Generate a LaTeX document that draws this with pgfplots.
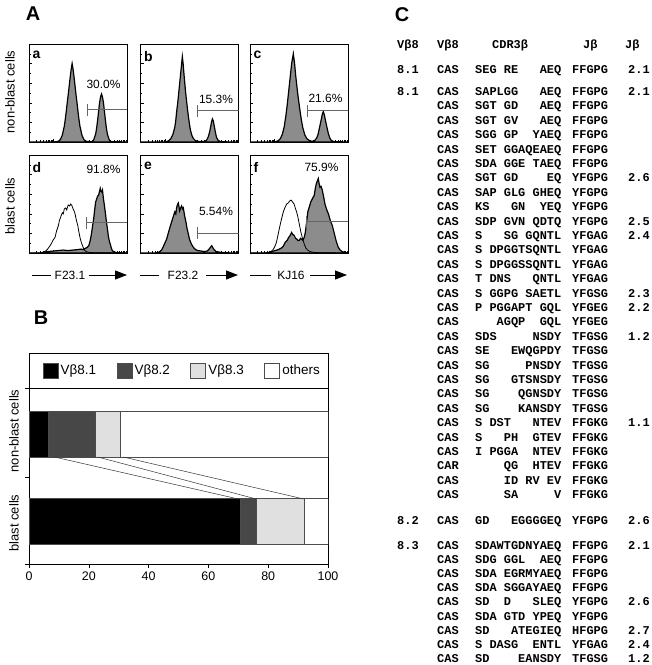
\documentclass[border=0pt]{standalone}
\usepackage{fontspec}
\setmainfont{Liberation Sans}
\newfontfamily\monofont{Liberation Mono}
\usepackage{pgfplots}
\pgfplotsset{compat=1.18}
\usetikzlibrary{arrows.meta}

\newcommand\ctab{\monofont\bfseries\fontsize{12}{12}\selectfont}

\tikzset{
  lbl/.style={font=\fontsize{12}{12}\selectfont},
  plet/.style={anchor=north west, inner sep=0pt, font=\bfseries\fontsize{14}{14}\selectfont},
}

\pgfplotsset{
  histo/.style={
    scale only axis, width=98bp, height=98bp, anchor=north west,
    xmin=0, xmax=100, ymin=0, ymax=100,
    tick align=inside, xtick pos=left, ytick pos=left,
    xtick={0,25,50,75,100},
    minor xtick={7.53,11.93,15.05,17.47,19.45,21.13,22.58,23.86,
                 32.53,36.93,40.05,42.47,44.45,46.13,47.58,48.86,
                 57.53,61.93,65.05,67.47,69.45,71.13,72.58,73.86,
                 82.53,86.93,90.05,92.47,94.45,96.13,97.58,98.86},
    ytick={0,20,40,60,80,100}, minor ytick={10,30,50,70,90},
    xticklabels={}, yticklabels={},
    major tick length=3bp, minor tick length=1.8bp,
    tick style={black, line width=0.6bp},
    axis line style={line width=0.9bp},
  },
  hfill/.style={fill=black!45, draw=black, line width=1.2bp},
  hopen/.style={draw=black, line width=0.8bp},
  gate/.style={black!60, line width=0.7bp},
}

\begin{document}
\begin{tikzpicture}[font=\fontsize{12}{14}\selectfont]
\useasboundingbox (0,0) rectangle (652bp,-665bp);

% ---------- A ----------
\node[font=\bfseries\fontsize{20}{20}\selectfont] at (33bp,-14bp) {A};
\node[rotate=90, font=\fontsize{13}{13}\selectfont] at (10bp,-92bp) {non-blast cells};
\node[rotate=90, font=\fontsize{13}{13}\selectfont] at (10bp,-206bp) {blast cells};

% a
\begin{axis}[histo, at={(29bp,-44bp)}]
\addplot[hfill] coordinates {(0,0) (24,0) (28,0.3) (30,0.8) (32,2.5) (34,7) (36,16) (37,23) (38,31) (39,40) (40,48) (41,57) (42,66) (43,74) (44,80) (45,74) (46,66) (47,57) (48,48) (49,40) (50,31) (51,23) (52,16) (54,7) (56,2.5) (58,0.8) (60,0.5) (62,0.4)
 (64,0.4) (66,2) (68,8) (69,14) (70,22) (71,31) (72,40) (73,46) (74,49) (75,46) (76,40) (77,31) (78,22) (79,14) (80,8) (82,2) (84,0.4) (100,0)} \closedcycle;
\addplot[gate] coordinates {(60,33) (100,33)};
\addplot[gate] coordinates {(60,27) (60,39)};
\node[lbl] at (axis cs:76,59) {30.0\%};
\node[plet] at (rel axis cs:0.035,0.93) {a};
\end{axis}

% b
\begin{axis}[histo, at={(140.5bp,-44bp)}]
\addplot[hfill] coordinates {(0,0) (24,0) (27,0.5) (29,1.5) (31,3.5) (33,7.5) (35,15) (36,22) (37,32) (38,40) (39,50) (40,60) (41,70) (42,80) (42.7,87) (43.5,80) (44.3,70) (45,62) (46,51) (47,42) (48,33) (49,25) (50,18) (51,12) (52.5,6.5) (54,3.5) (56,1.5) (58,0.7) (62,0.5)
 (66,0.7) (67.5,2) (69,5) (70.5,10) (71.5,15) (72.5,20.5) (73.4,23.6) (74.3,21.5) (75.3,16) (76.5,9.5) (77.5,5) (79,2) (81,0.6) (85,0.2) (100,0)} \closedcycle;
\addplot[gate] coordinates {(58.4,32) (100,32)};
\addplot[gate] coordinates {(58.4,26) (58.4,38)};
\node[lbl] at (axis cs:77,43) {15.3\%};
\node[plet] at (rel axis cs:0.035,0.93) {b};
\end{axis}

% c
\begin{axis}[histo, at={(250bp,-44bp)}]
\addplot[hfill] coordinates {(0,0) (24,0) (27,0.6) (29,1.5) (31,3.5) (33,8) (35,16) (36.5,26) (38,38) (39.5,52) (41,66) (42.5,80) (44.2,90) (45.5,80) (46.5,69) (47.5,60) (48.5,51) (49.5,43) (51,32) (52.5,22) (54,14) (56,7) (58,3.5) (61,1.2) (63,0.8)
 (64,0.8) (66,1.5) (68,4) (69.5,8) (71,15) (72.5,22) (73.8,28.5) (74.8,31) (75.8,28) (77,22) (78.5,15) (80,8.5) (81.5,4) (83,1.5) (86,0.4) (100,0)} \closedcycle;
\addplot[gate] coordinates {(58.8,32) (100,32)};
\addplot[gate] coordinates {(58.8,26) (58.8,38)};
\node[lbl] at (axis cs:77,45) {21.6\%};
\node[plet] at (rel axis cs:0.035,0.93) {c};
\end{axis}

% d
\begin{axis}[histo, at={(29bp,-155bp)}]
\addplot[hfill] coordinates {(0,0) (12,0) (15,0.8) (20,1.5) (25,2) (30,2.5) (35,3) (40,2.5) (45,3) (50,3.5) (53,4) (55,3.5) (57,4.5) (59,5.5) (61,7.5) (62.3,12) (63.5,18) (64.8,27) (66,35) (67,44) (68,52) (69,55) (70,58) (71,59) (71.8,62) (72.7,66) (73.5,63) (74.4,62) (75,64) (76,55) (77,48) (77.8,42) (79,32) (80,24.7) (81,17) (82,12) (83,9) (84,5) (85,2.4) (87,1) (90,0.3) (100,0)} \closedcycle;
\addplot[hopen] coordinates {(0,0) (10,0) (14,0.5) (17,2) (19,4) (21.5,7.5) (23,10) (24.5,13) (26.6,16) (28,22) (30,28) (31,33) (32.8,38) (34,41) (35,40) (36,45) (37.5,46) (38.5,44) (40,49) (41.5,48) (42.5,50) (43.7,48.6) (45,45) (46,43) (47,40) (48,35) (49,31) (49.8,28) (50.8,22) (52,16) (53.3,11) (54.6,7.5) (56,4) (57,2.4) (59,1.2) (62,0.6) (66,0.3) (70,0.2) (100,0)};
\addplot[gate] coordinates {(59,31) (100,31)};
\addplot[gate] coordinates {(59,25) (59,37)};
\node[lbl] at (axis cs:76,85) {91.8\%};
\node[plet] at (rel axis cs:0.035,0.93) {d};
\end{axis}

% e
\begin{axis}[histo, at={(140.5bp,-155bp)}]
\addplot[hfill] coordinates {(0,0) (15,0) (18,0.5) (19.8,1.5) (21.5,3) (23,6) (24.8,10) (26.6,14) (28,19) (30,26) (31.5,31) (33.4,37) (35,42) (36,40) (37,47) (38,50) (38.6,51) (39.3,47) (40,43) (41,46) (42,48) (43,45) (43.7,46) (45,38) (46.4,31.5) (47.5,25) (48.8,19.5) (50,14) (52,9) (53.8,6) (55.6,4) (57,3) (59,2.4) (62,2) (65,1.5) (68,2) (70,4) (71.5,6) (72.7,7.5) (74,5) (75.5,3) (77,1.5) (80,1) (84,0.5) (88,0.2) (100,0)} \closedcycle;
\addplot[gate] coordinates {(58.4,20.5) (100,20.5)};
\addplot[gate] coordinates {(58.4,14.5) (58.4,26.5)};
\node[lbl] at (axis cs:77,42) {5.54\%};
\node[plet] at (rel axis cs:0.035,0.93) {e};
\end{axis}

% f
\begin{axis}[histo, at={(250bp,-155bp)}]
\addplot[hfill] coordinates {(0,0) (15,0) (19,0.5) (22,1.5) (26,2.5) (29,3.5) (32,5) (34,7) (36,11) (38,13) (39.5,16) (41,18) (42.5,21) (43.5,19) (45,18) (46.5,15) (48,14) (49,12.7) (50.5,13) (51.5,15) (52.7,14) (54,13) (55.3,16) (56.5,21) (57.8,32) (59,42) (60.5,47) (62,52) (63.5,55) (64.5,57) (65.6,59) (66.5,65) (67.5,70) (68.5,73) (69.7,76) (70.5,71) (71.4,67) (72.5,68) (73.8,64) (75,58) (76.5,50) (78,45) (80,40) (82,33) (84,28) (86,20) (88,12) (90,6) (92,3) (94,1.5) (97,0.5) (100,0)} \closedcycle;
\addplot[hopen] coordinates {(0,0) (15,0) (19,0.5) (22,2) (24,4) (25.5,7) (27,11) (28.5,18) (30.6,28) (32,34) (34,42) (35.5,46) (37.4,50) (39,51) (40.5,53) (42,54) (43.5,52) (45,50) (46.5,45) (47.5,42) (48.6,38) (50,31) (51,26) (52,21) (53.5,15) (55.4,9) (57,5) (58.8,3) (61,1.5) (64,0.8) (68,0.4) (75,0.2) (100,0)};
\addplot[gate] coordinates {(57,32) (100,32)};
\addplot[gate] coordinates {(57,26) (57,38)};
\node[lbl] at (axis cs:73,87) {75.9\%};
\node[plet] at (rel axis cs:0.035,0.93) {f};
\end{axis}

% antibody labels
\draw[line width=1bp] (32bp,-275bp) -- (51bp,-275bp);
\node at (70bp,-275bp) {F23.1};
\draw[line width=1bp,-{Triangle[length=12bp,width=9bp]}] (89bp,-275bp) -- (127bp,-275bp);
\draw[line width=1bp] (140bp,-275bp) -- (159bp,-275bp);
\node at (183bp,-275bp) {F23.2};
\draw[line width=1bp,-{Triangle[length=12bp,width=9bp]}] (206bp,-275bp) -- (238bp,-275bp);
\draw[line width=1bp] (250bp,-275bp) -- (271bp,-275bp);
\node at (291bp,-275bp) {KJ16};
\draw[line width=1bp,-{Triangle[length=12bp,width=9bp]}] (310bp,-275bp) -- (347bp,-275bp);

% ---------- B ----------
\node[font=\bfseries\fontsize{20}{20}\selectfont] at (41bp,-318bp) {B};
\node[rotate=90, font=\fontsize{13}{13}\selectfont] at (14bp,-431bp) {non-blast cells};
\node[rotate=90, font=\fontsize{13}{13}\selectfont] at (14bp,-523bp) {blast cells};

\begin{axis}[
  at={(29bp,-353bp)}, anchor=north west,
  scale only axis, width=299bp, height=211bp,
  xmin=0, xmax=100, ymin=0, ymax=211,
  xbar stacked, bar width=46,
  xtick={0,20,40,60,80,100}, ytick={0,87,176}, yticklabels={},
  tick align=outside, xtick pos=left, ytick pos=left,
  major tick length=4bp,
  tick style={black, line width=0.6bp},
  axis line style={line width=0.7bp},
  /pgf/number format/assume math mode=true,
  xticklabel style={font=\fontsize{12.5}{13}\selectfont},
  legend columns=4,
  legend style={at={(0.045,0.917)}, anchor=west, draw=none, fill=none,
    inner sep=0pt, font=\fontsize{13.5}{13.5}\selectfont,
    nodes={inner xsep=2.5bp},
    /tikz/every even column/.append style={column sep=18bp}},
  legend image code/.code={\draw[#1] (0bp,-7.5bp) rectangle (15bp,7.5bp);},
]
\addplot[fill=black, draw=black!70, line width=0.5bp] coordinates {(6.6,130) (70.5,42.5)};
\addlegendentry{Vβ8.1}
\addplot[fill=black!72, draw=black!70, line width=0.5bp] coordinates {(15.4,130) (5.5,42.5)};
\addlegendentry{Vβ8.2}
\addplot[fill=black!12, draw=black!70, line width=0.5bp] coordinates {(8.5,130) (15.9,42.5)};
\addlegendentry{Vβ8.3}
\addplot[fill=white, draw=black!70, line width=0.5bp] coordinates {(69.5,130) (8.1,42.5)};
\addlegendentry{others}
\end{axis}

\begin{axis}[
  at={(29bp,-353bp)}, anchor=north west,
  scale only axis, width=299bp, height=211bp,
  xmin=0, xmax=100, ymin=0, ymax=211, hide axis,
]
\addplot[black, line width=0.7bp] coordinates {(0,176) (100,176)};
\addplot[black!80, line width=0.5bp] coordinates {(8.5,107) (70,65)};
\addplot[black!80, line width=0.5bp] coordinates {(23,107) (76,65)};
\addplot[black!80, line width=0.5bp] coordinates {(31.5,107) (91.9,65)};
\end{axis}

% ---------- C ----------
\node[font=\bfseries\fontsize{20}{20}\selectfont] at (402bp,-15bp) {C};
\begin{scope}[x=1bp, y=-1bp, every node/.style={anchor=base west, inner sep=0pt, font=\ctab}]
\node at (397,48.5) {Vβ8};
\node at (437,48.5) {Vβ8};
\node at (492,48.5) {CDR3β};
\node at (583,48.5) {Jβ};
\node at (625,48.5) {Jβ};

\node at (397,73.5) {8.1};
\node at (437,73.5) {CAS};
\node at (475,73.5) {SEG~RE~~~AEQ};
\node at (572,73.5) {FFGPG};
\node at (628,73.5) {2.1};

\node at (397,95.5) {8.1};
\foreach \c/\s/\j/\n [count=\k from 0] in {
  CAS/SAPLGG~~~AEQ/FFGPG/2.1,
  CAS/SGT~GD~~~AEQ/FFGPG/{},
  CAS/SGT~GV~~~AEQ/FFGPG/{},
  CAS/SGG~GP~~YAEQ/FFGPG/{},
  CAS/SET~GGAQEAEQ/FFGPG/{},
  CAS/SDA~GGE~TAEQ/FFGPG/{},
  CAS/SGT~GD~~~~EQ/YFGPG/2.6,
  CAS/SAP~GLG~GHEQ/YFGPG/{},
  CAS/KS~~~GN~~YEQ/YFGPG/{},
  CAS/SDP~GVN~QDTQ/YFGPG/2.5,
  CAS/S~~~SG~GQNTL/YFGAG/2.4,
  CAS/S~DPGGTSQNTL/YFGAG/{},
  CAS/S~DPGGSSQNTL/YFGAG/{},
  CAS/T~DNS~~~QNTL/YFGAG/{},
  CAS/S~GGPG~SAETL/YFGSG/2.3,
  CAS/P~PGGAPT~GQL/YFGEG/2.2,
  CAS/~~~AGQP~~GQL/YFGEG/{},
  CAS/SDS~~~~~NSDY/TFGSG/1.2,
  CAS/SE~~~EWQGPDY/TFGSG/{},
  CAS/SG~~~~~PNSDY/TFGSG/{},
  CAS/SG~~~GTSNSDY/TFGSG/{},
  CAS/SG~~~~QGNSDY/TFGSG/{},
  CAS/SG~~~~KANSDY/TFGSG/{},
  CAS/S~DST~~~NTEV/FFGKG/1.1,
  CAS/S~~~PH~~GTEV/FFGKG/{},
  CAS/I~PGGA~~NTEV/FFGKG/{},
  CAR/~~~~QG~~HTEV/FFGKG/{},
  CAS/~~~~ID~RV~EV/FFGKG/{},
  CAS/~~~~SA~~~~~V/FFGKG/{}
}{
  \pgfmathsetmacro\yy{95.5+14.4*\k}
  \node at (437,\yy) {\c};
  \node at (475,\yy) {\s};
  \node at (572,\yy) {\j};
  \node at (628,\yy) {\n};
}

\node at (397,524.5) {8.2};
\node at (437,524.5) {CAS};
\node at (475,524.5) {GD~~~EGGGGEQ};
\node at (572,524.5) {YFGPG};
\node at (628,524.5) {2.6};

\node at (397,549.5) {8.3};
\foreach \c/\s/\j/\n [count=\k from 0] in {
  CAS/SDAWTGDNYAEQ/FFGPG/2.1,
  CAS/SDG~GGL~~AEQ/FFGPG/{},
  CAS/SDA~EGRMYAEQ/FFGPG/{},
  CAS/SDA~SGGAYAEQ/FFGPG/{},
  CAS/SD~~D~~~SLEQ/YFGPG/2.6,
  CAS/SDA~GTD~YPEQ/YFGPG/{},
  CAS/SD~~~ATEGIEQ/HFGPG/2.7,
  CAS/S~DASG~~ENTL/YFGAG/2.4,
  CAS/SD~~~~EANSDY/TFGSG/1.2
}{
  \pgfmathsetmacro\yy{549.5+14.1*\k}
  \node at (437,\yy) {\c};
  \node at (475,\yy) {\s};
  \node at (572,\yy) {\j};
  \node at (628,\yy) {\n};
}
\end{scope}
\end{tikzpicture}
\end{document}
